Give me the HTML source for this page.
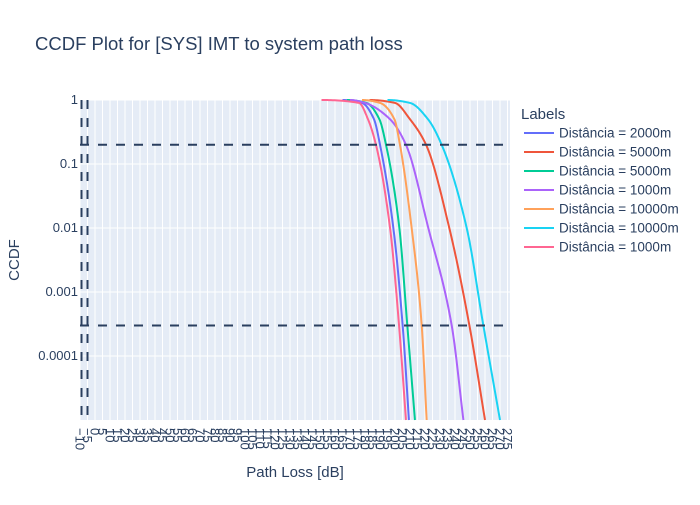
<!DOCTYPE html>
<html><head><meta charset="utf-8"><style>
body{margin:0;background:#fff;font-family:"Liberation Sans",sans-serif}
svg text{font-family:"Liberation Sans",sans-serif;fill:#2a3f5f}
</style></head><body>
<svg width="700" height="500" xmlns="http://www.w3.org/2000/svg">
<rect width="700" height="500" fill="#fff"/>
<text x="35" y="50" font-size="18.5">CCDF Plot for [SYS] IMT to system path loss</text>
<rect x="80" y="100" width="430" height="320" fill="#e5ecf6"/>
<g id="grid"></g><g id="series"></g><g id="ref"></g><g id="xt"></g><g id="yt"></g>
<text x="295" y="477" font-size="15" text-anchor="middle">Path Loss [dB]</text>
<text transform="translate(19,260) rotate(-90)" font-size="15" text-anchor="middle">CCDF</text>
<g id="legend"><text x="521" y="119" font-size="15">Labels</text></g>
</svg>
<script>
const xTicks=[];for(let v=-10;v<=275;v+=5)xTicks.push(v);
const yTicks=[1,0.1,0.01,0.001,0.0001];
const yTickLabels=["1","0.1","0.01","0.001","0.0001"];
const levels=[1,0.9,0.5,0.2,0.01,0.0003,0.00001];
const names=["Distância = 2000m","Distância = 5000m","Distância = 5000m","Distância = 1000m","Distância = 10000m","Distância = 10000m","Distância = 1000m"];
const colors=["#636efa","#EF553B","#00cc96","#ab63fa","#FFA15A","#19d3f3","#FF6692"];
const s0=[165,178,186,190,198.9,205.1,209.3];
const s1=[183,200,210,220.7,236.2,249.6,260];
const s2=[168,181,189.6,194,202.9,208.2,213.3];
const s3=[170,180,196.7,207.3,222.2,237.8,245.6];
const s4=[178,190,199.6,203.3,211.1,217.8,221.1];
const s5=[195,210,222,231.1,247.8,258.9,270];
const s6=[151,176,182,187.3,196.7,202.7,207.3];
const series=[s0,s1,s2,s3,s4,s5,s6];
const hLines=[0.2,0.0003];
const vLines=[-9,-5];
const X=v=>95+1.5*v, Y=p=>100-64*Math.log10(p);
const NS="http://www.w3.org/2000/svg";
function mk(t,a,p){const e=document.createElementNS(NS,t);for(const k in a)e.setAttribute(k,a[k]);p.appendChild(e);return e;}
const g=document.getElementById('grid');
xTicks.forEach(v=>{const l=mk('line',{x1:X(v),x2:X(v),y1:100,y2:420,stroke:'#fff','stroke-width':1},g);

});
yTicks.forEach(p=>{const l=mk('line',{x1:80,x2:510,y1:Y(p),y2:Y(p),stroke:'#fff','stroke-width':1},g);

});
const xt=document.getElementById('xt');
xTicks.forEach(v=>{const t=mk('text',{transform:`translate(${X(v)-4.5},428) rotate(90)`,'font-size':13},xt);t.textContent=v<0?'−'+(-v):v;

});
const yt=document.getElementById('yt');
yTicks.forEach((p,i)=>{const t=mk('text',{x:78,y:Y(p)+4,'font-size':13,'text-anchor':'end'},yt);t.textContent=yTickLabels[i];

});
// Fritsch-Carlson monotone cubic: pixel y as function of pixel x
function monoPath(xs,ys){const n=xs.length,d=[],m=[];
for(let i=0;i<n-1;i++)d.push((ys[i+1]-ys[i])/(xs[i+1]-xs[i]));
m[0]=0;m[n-1]=d[n-2];
for(let i=1;i<n-1;i++){if(d[i-1]*d[i]<=0)m[i]=0;else{const h0=xs[i]-xs[i-1],h1=xs[i+1]-xs[i],w1=2*h1+h0,w2=h1+2*h0;m[i]=(w1+w2)/(w1/d[i-1]+w2/d[i]);}}
const out=[];for(let i=0;i<n-1;i++){const h=xs[i+1]-xs[i];for(let k=0;k<=20;k++){if(i>0&&k===0)continue;const t=k/20,t2=t*t,t3=t2*t;
const y=(2*t3-3*t2+1)*ys[i]+(t3-2*t2+t)*h*m[i]+(-2*t3+3*t2)*ys[i+1]+(t3-t2)*h*m[i+1];out.push([xs[i]+t*h,y]);}}
return 'M'+out.map(p=>p[0].toFixed(2)+','+p[1].toFixed(2)).join(' L');}
const sg=document.getElementById('series');
series.forEach((s,i)=>{const ys=levels.map(Y),xs=s.map(X);
const p=mk('path',{d:monoPath(xs,ys),fill:'none',stroke:colors[i],'stroke-width':2},sg);

});
const rg=document.getElementById('ref');
hLines.forEach(p=>{const l=mk('line',{x1:80,x2:503,y1:Y(p),y2:Y(p),stroke:'#2a3f5f','stroke-width':2,'stroke-dasharray':'9,9'},rg);

});
vLines.forEach(v=>{const l=mk('line',{x1:X(v),x2:X(v),y1:100,y2:420,stroke:'#2a3f5f','stroke-width':2,'stroke-dasharray':'9,9'},rg);

});
const lg=document.getElementById('legend');
names.forEach((n,i)=>{const y=133+19*i;
const l=mk('line',{x1:524,x2:554,y1:y,y2:y,stroke:colors[i],'stroke-width':2},lg);


const t=mk('text',{x:559,y:y+4.5,'font-size':13.5},lg);t.textContent=n;

});
</script>
</body></html>
